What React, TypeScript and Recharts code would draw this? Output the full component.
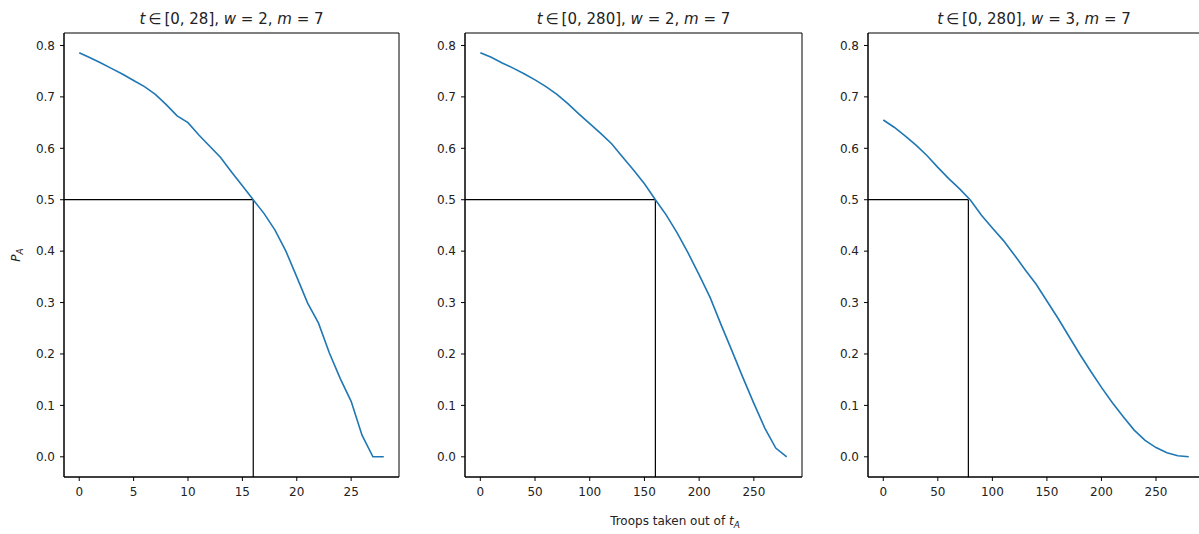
import { LineChart, Line, XAxis, YAxis, ReferenceLine, ReferenceArea } from "recharts";

// troops taken out of t_A (small run, t in [0, 28])
const xSmall = [0, 1, 2, 3, 4, 5, 6, 7, 8, 9, 10, 11, 12, 13, 14, 15, 16, 17, 18, 19, 20, 21, 22, 23, 24, 25, 26, 27, 28];
const pSmall = [
  0.786, 0.776, 0.766, 0.755, 0.744, 0.732, 0.72, 0.705, 0.685, 0.663, 0.65, 0.626, 0.604, 0.582, 0.554,
  0.527, 0.5, 0.473, 0.441, 0.4, 0.35, 0.299, 0.26, 0.202, 0.152, 0.108, 0.042, 0.0, 0.0,
];

// large runs, t in [0, 280]
const xLarge = [0, 10, 20, 30, 40, 50, 60, 70, 80, 90, 100, 110, 120, 130, 140, 150, 160, 170, 180, 190, 200, 210, 220, 230, 240, 250, 260, 270, 280];
const pLargeW2 = [
  0.786, 0.777, 0.766, 0.756, 0.745, 0.733, 0.72, 0.705, 0.687, 0.667, 0.648, 0.629, 0.609, 0.583, 0.558,
  0.531, 0.5, 0.47, 0.435, 0.396, 0.354, 0.31, 0.257, 0.206, 0.154, 0.104, 0.056, 0.017, 0.0,
];
const pLargeW3 = [
  0.655, 0.641, 0.624, 0.606, 0.586, 0.563, 0.541, 0.521, 0.499, 0.47, 0.445, 0.421, 0.393, 0.364, 0.336,
  0.303, 0.27, 0.235, 0.2, 0.167, 0.135, 0.105, 0.078, 0.052, 0.032, 0.018, 0.008, 0.002, 0.0,
];

const yTicks = [0, 0.1, 0.2, 0.3, 0.4, 0.5, 0.6, 0.7, 0.8];
const xTicksSmall = [0, 5, 10, 15, 20, 25];
const xTicksLarge = [0, 50, 100, 150, 200, 250];

const threshold = 0.5;
const cutSmall = 16;
const cutW2 = 160;
const cutW3 = 78;

const yDomain: [number, number] = [-0.03925, 0.82425];
const font = "'DejaVu Sans', sans-serif";
const tickStyle = { fontSize: 12, fill: "#222", fontFamily: font };

interface PanelProps {
  xs: number[];
  ps: number[];
  xTicks: number[];
  xDomain: [number, number];
  cut: number;
  left: number;
  width: number;
  yAxisWidth: number;
  right: number;
}

function Panel({ xs, ps, xTicks, xDomain, cut, left, width, yAxisWidth, right }: PanelProps) {
  const data = xs.map((x, i) => ({ x, p: ps[i] }));
  return (
    <div style={{ position: "absolute", left, top: 0 }}>
      <LineChart width={width} height={534} data={data} margin={{ top: 33, right, bottom: 27, left: 0 }}>
        <XAxis
          dataKey="x"
          type="number"
          domain={xDomain}
          ticks={xTicks}
          allowDataOverflow
          height={30}
          tickSize={4}
          tickMargin={6}
          tick={tickStyle}
          axisLine={{ stroke: "#000" }}
          tickLine={{ stroke: "#000" }}
        />
        <YAxis
          type="number"
          domain={yDomain}
          ticks={yTicks}
          allowDataOverflow
          width={yAxisWidth}
          tickSize={4}
          tickMargin={5}
          tick={tickStyle}
          tickFormatter={(v: number) => v.toFixed(1)}
          axisLine={{ stroke: "#000" }}
          tickLine={{ stroke: "#000" }}
        />
        {/* frame (matplotlib spines) */}
        <ReferenceArea
          x1={xDomain[0]}
          x2={xDomain[1]}
          y1={yDomain[0]}
          y2={yDomain[1]}
          fill="none"
          fillOpacity={0}
          stroke="#000"
          strokeWidth={1}
          ifOverflow="visible"
        />
        <ReferenceLine
          segment={[
            { x: xDomain[0], y: threshold },
            { x: cut, y: threshold },
          ]}
          stroke="#000"
          strokeWidth={1.2}
        />
        <ReferenceLine
          segment={[
            { x: cut, y: yDomain[0] },
            { x: cut, y: threshold },
          ]}
          stroke="#000"
          strokeWidth={1.2}
        />
        <Line type="linear" dataKey="p" stroke="#1f77b4" strokeWidth={1.6} dot={false} isAnimationActive={false} />
      </LineChart>
    </div>
  );
}

function Title({ cx, range, w }: { cx: number; range: string; w: number }) {
  return (
    <text x={cx} y={24} textAnchor="middle" fontSize={15} fontFamily={font} fill="#222">
      <tspan fontStyle="italic">t</tspan>
      <tspan>{`\u2009∈\u2009[0, ${range}], `}</tspan>
      <tspan fontStyle="italic">w</tspan>
      <tspan>{` = ${w}, `}</tspan>
      <tspan fontStyle="italic">m</tspan>
      <tspan>{" = 7"}</tspan>
    </text>
  );
}

export default function App() {
  return (
    <div
      style={{
        position: "absolute",
        left: 0,
        top: 0,
        width: 1199,
        height: 534,
        overflow: "hidden",
        background: "#fff",
      }}
    >
      <Panel xs={xSmall} ps={pSmall} xTicks={xTicksSmall} xDomain={[-1.4, 29.4]} cut={cutSmall} left={0} width={410} yAxisWidth={64} right={11} />
      <Panel xs={xLarge} ps={pLargeW2} xTicks={xTicksLarge} xDomain={[-14, 294]} cut={cutW2} left={410} width={400} yAxisWidth={55} right={8} />
      <Panel xs={xLarge} ps={pLargeW3} xTicks={xTicksLarge} xDomain={[-14, 294]} cut={cutW3} left={810} width={394} yAxisWidth={58} right={0} />
      <svg width={1199} height={534} style={{ position: "absolute", left: 0, top: 0, pointerEvents: "none" }}>
        <Title cx={231.5} range="28" w={2} />
        <Title cx={633.5} range="280" w={2} />
        <Title cx={1034} range="280" w={3} />
        <text transform="translate(20,255) rotate(-90)" textAnchor="middle" fontSize={12} fontFamily={font} fill="#222">
          <tspan fontStyle="italic">P</tspan>
          <tspan fontStyle="italic" fontSize={9} dy={3}>A</tspan>
        </text>
        <text x={675} y={525} textAnchor="middle" fontSize={12} fontFamily={font} fill="#222">
          <tspan>Troops taken out of </tspan>
          <tspan fontStyle="italic">t</tspan>
          <tspan fontStyle="italic" fontSize={9} dy={3}>A</tspan>
        </text>
      </svg>
    </div>
  );
}
